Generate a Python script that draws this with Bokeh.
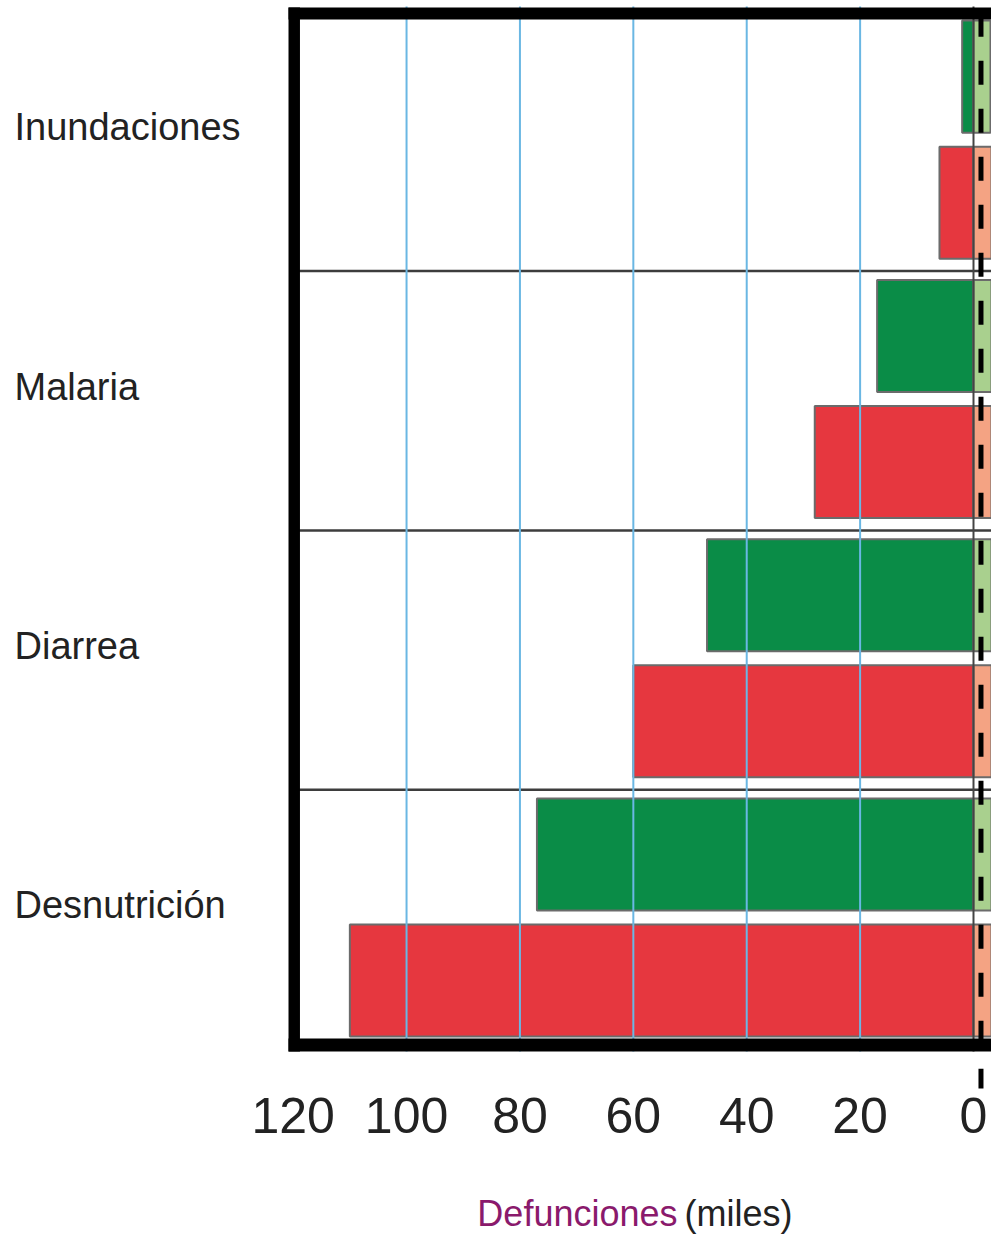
from bokeh.plotting import figure
from bokeh.models import Range1d, ColumnDataSource
from bokeh.core.properties import value
from bokeh.embed import file_html
from bokeh.resources import INLINE

# ---- data (thousands of deaths), groups listed bottom -> top ----
categories = ["Desnutrición", "Diarrea", "Malaria", "Inundaciones"]
deaths_green = [77, 47, 17, 2]        # dark green bar (upper bar of each group)
deaths_red = [110, 60, 28, 6]         # red bar (lower bar of each group)
# right-hand half of the chart, cut off at the picture's edge (estimates)
deaths_green_right = [70, 45, 15, 3]
deaths_red_right = [100, 55, 25, 6]
x_ticks = [0, 20, 40, 60, 80, 100, 120]
x_tick_labels = ["0", "20", "40", "60", "80", "100", "120"]
grid_ticks = [20, 40, 60, 80, 100]

FONT = "Liberation Sans"

p = figure(width=991, height=1237,
           x_range=Range1d(171.62, -3.175), y_range=Range1d(-0.7269, 4.0436),
           output_backend="svg", toolbar_location=None,
           x_axis_location=None, y_axis_location=None,
           min_border_left=0, min_border_right=0, min_border_top=0,
           min_border_bottom=0)
p.outline_line_color = None
p.xgrid.visible = False
p.ygrid.visible = False
p.background_fill_color = "white"
p.border_fill_color = "white"

n = len(categories)
src = ColumnDataSource(dict(
    yg=[i + 0.75 for i in range(n)],
    yr=[i + 0.264 for i in range(n)],
    g=deaths_green, r=deaths_red,
    gr=[-v for v in deaths_green_right],
    rr=[-v for v in deaths_red_right],
))

BAR_H = 0.432
OUT = "#6b6b6b"
p.hbar(y="yg", left=0, right="g", height=BAR_H, fill_color="#0a8c47",
       line_color=OUT, line_width=2, source=src)
p.hbar(y="yr", left=0, right="r", height=BAR_H, fill_color="#e6373f",
       line_color=OUT, line_width=2, source=src)
p.hbar(y="yg", left=0, right="gr", height=BAR_H, fill_color="#a9d08e",
       line_color=OUT, line_width=2, source=src)
p.hbar(y="yr", left=0, right="rr", height=BAR_H, fill_color="#f4a383",
       line_color=OUT, line_width=2, source=src)

# group separators
seps = list(range(1, n))
p.segment(x0=[120.0] * len(seps), x1=[-5] * len(seps), y0=seps, y1=seps,
          line_color="#3d3d3d", line_width=2.5)
# blue grid lines
p.segment(x0=grid_ticks, x1=grid_ticks, y0=[-0.01] * len(grid_ticks),
          y1=[4.02] * len(grid_ticks), line_color="#6ab7e3", line_width=2)
# zero line
p.segment(x0=[0], x1=[0], y0=[-0.01], y1=[4.02], line_color="#444444", line_width=2)
# dashed centre line
p.segment(x0=[-1.32], x1=[-1.32], y0=[3.9965], y1=[-0.1523], line_color="black",
          line_width=5, line_dash="24 24", line_cap="butt")
# thick frame (top, left, bottom)
p.quad(left=[120.82, 120.82, 120.82], right=[-5, 118.80, -5],
       top=[4.0166, 4.0166, 0.0405], bottom=[3.9703, -0.0096, -0.0096],
       fill_color="black", line_color=None)

# x tick labels, placed through the x scale at the tick values
p.text(x=x_ticks, y=[-0.258] * len(x_ticks), text=x_tick_labels,
       text_font=value(FONT), text_font_size="50px", text_color="#222222",
       text_align="center", text_baseline="alphabetic")

# category labels
p.text(x=[169.15] * n, y=[i + 0.554 for i in range(n)], text=categories,
       text_font=value(FONT), text_font_size="38px", text_color="#222222",
       text_align="left", text_baseline="alphabetic")

# axis title in two colours
p.text(x=[52.21], y=[-0.636], text=["Defunciones"], text_font=value(FONT),
       text_font_size="36px", text_color="#8a1a6c",
       text_align="right", text_baseline="alphabetic")
p.text(x=[50.98], y=[-0.636], text=["(miles)"], text_font=value(FONT),
       text_font_size="36px", text_color="#222222",
       text_align="left", text_baseline="alphabetic")

open("out.html", "w").write(file_html(p, INLINE))
